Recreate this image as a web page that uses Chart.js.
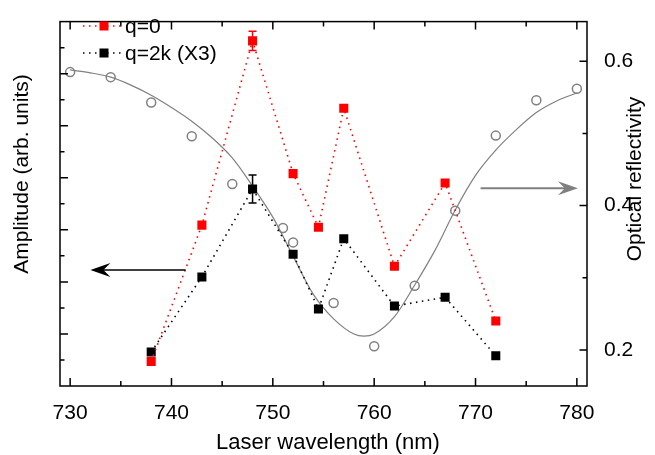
<!DOCTYPE html>
<html>
<head>
<meta charset="utf-8">
<script src="https://cdn.jsdelivr.net/npm/chart.js@4.4.0/dist/chart.umd.min.js"></script>
<style>
  html, body { margin: 0; padding: 0; background: #fff; }
  #wrap { width: 655px; height: 455px; }
</style>
</head>
<body>
<div id="wrap"><canvas id="myChart" width="655" height="455"></canvas></div>
<script>
// amplitude data (left axis, arb. units)
var wavelengths = [738, 743, 748, 752, 754.5, 757, 762, 767, 772];
var ampQ0 = [0.94, 6.18, 13.26, 8.16, 6.1, 10.67, 4.6, 7.8, 2.5];
var ampQ2k = [1.31, 4.19, 7.57, 5.06, 2.96, 5.66, 3.07, 3.41, 1.16];
var errQ0 = [0, 0, 0.37, 0, 0, 0, 0, 0, 0];
var errQ2k = [0, 0, 0.54, 0, 0, 0, 0, 0, 0];

// optical reflectivity (right axis)
var reflWl = [730, 734, 738, 742, 746, 751, 752, 756, 760, 764, 768, 772, 776, 780];
var reflVal = [0.585, 0.578, 0.543, 0.496, 0.43, 0.369, 0.349, 0.265, 0.205, 0.289, 0.393, 0.497, 0.546, 0.562];

// fit curve
var fitWl = [730, 732, 734, 736, 738, 740, 742, 744, 746, 748, 750, 752, 754, 756, 758, 759, 760, 762, 764, 766, 768, 770, 772, 774, 776, 778, 780];
var fitVal = [0.588, 0.584, 0.578, 0.567, 0.553, 0.536, 0.517, 0.494, 0.466, 0.427, 0.384, 0.330, 0.277, 0.243, 0.222, 0.219, 0.222, 0.246, 0.290, 0.338, 0.394, 0.442, 0.477, 0.505, 0.529, 0.545, 0.556];

var xTicks = [730, 740, 750, 760, 770, 780];
var xMinorTicks = [735, 745, 755, 765, 775];
var rightTicks = [0.2, 0.4, 0.6];
var rightMinorTicks = [0.3, 0.5];
var leftTicks = [2, 4, 6, 8, 10, 12];
var leftMinorTicks = [1, 3, 5, 7, 9, 11, 13];

var legendLabels = ['q=0', 'q=2k (X3)'];

var FONT = '"Liberation Sans", Arial, sans-serif';
var RED = '#ff0000', GRAY = '#808080';

function pts(xs, ys) {
  return xs.map(function (x, i) { return {x: x, y: ys[i]}; });
}

function arrow(ctx, x1, y1, x2, y2, color, lw, len, half) {
  var dir = x2 > x1 ? 1 : -1;
  ctx.save();
  ctx.strokeStyle = color;
  ctx.fillStyle = color;
  ctx.lineWidth = lw;
  ctx.beginPath();
  ctx.moveTo(x1, y1);
  ctx.lineTo(x2 - dir * len * 0.6, y2);
  ctx.stroke();
  ctx.beginPath();
  ctx.moveTo(x2, y2);
  ctx.lineTo(x2 - dir * len, y2 - half);
  ctx.lineTo(x2 - dir * len * 0.65, y2);
  ctx.lineTo(x2 - dir * len, y2 + half);
  ctx.closePath();
  ctx.fill();
  ctx.restore();
}

var decor = {
  id: 'decor',
  beforeDatasetsDraw: function (chart) {
    var ctx = chart.ctx, x = chart.scales.x, y = chart.scales.y;
    // error bars
    [[ampQ0, errQ0, RED], [ampQ2k, errQ2k, '#000']].forEach(function (s) {
      s[1].forEach(function (e, i) {
        if (!e) return;
        var px = x.getPixelForValue(wavelengths[i]);
        var top = y.getPixelForValue(s[0][i] + e);
        var bot = y.getPixelForValue(s[0][i] - e);
        ctx.save();
        ctx.strokeStyle = s[2];
        ctx.lineWidth = 1.5;
        ctx.beginPath();
        ctx.moveTo(px, top); ctx.lineTo(px, bot);
        ctx.moveTo(px - 4, top); ctx.lineTo(px + 4, top);
        ctx.moveTo(px - 4, bot); ctx.lineTo(px + 4, bot);
        ctx.stroke();
        ctx.restore();
      });
    });
  },
  afterDraw: function (chart) {
    var ctx = chart.ctx, a = chart.chartArea;
    var x = chart.scales.x, y = chart.scales.y, y2 = chart.scales.y2;
    ctx.save();
    ctx.strokeStyle = '#000';
    ctx.lineWidth = 1.5;
    ctx.strokeRect(a.left, a.top, a.right - a.left, a.bottom - a.top);
    ctx.beginPath();
    xTicks.concat(xMinorTicks).forEach(function (v) {
      var px = x.getPixelForValue(v), l = xTicks.indexOf(v) >= 0 ? 8 : 5;
      ctx.moveTo(px, a.bottom); ctx.lineTo(px, a.bottom - l);
      ctx.moveTo(px, a.top); ctx.lineTo(px, a.top + l);
    });
    leftTicks.concat(leftMinorTicks).forEach(function (v) {
      var py = y.getPixelForValue(v), l = leftTicks.indexOf(v) >= 0 ? 8 : 4.5;
      ctx.moveTo(a.left, py); ctx.lineTo(a.left + l, py);
    });
    rightTicks.concat(rightMinorTicks).forEach(function (v) {
      var py = y2.getPixelForValue(v), l = rightTicks.indexOf(v) >= 0 ? 7.5 : 4.5;
      ctx.moveTo(a.right, py); ctx.lineTo(a.right - l, py);
    });
    ctx.stroke();

    // arrows
    arrow(ctx, x.getPixelForValue(741.4), y.getPixelForValue(4.46),
          x.getPixelForValue(732.0), y.getPixelForValue(4.46), '#000', 1.5, 20, 7);
    arrow(ctx, x.getPixelForValue(770.5), y2.getPixelForValue(0.424),
          x.getPixelForValue(780.1), y2.getPixelForValue(0.424), GRAY, 2, 20, 7);

    // legend
    ctx.font = '21px ' + FONT;
    ctx.textBaseline = 'middle';
    ctx.textAlign = 'left';
    [[RED, 26], ['#000', 53]].forEach(function (l, i) {
      ctx.strokeStyle = l[0];
      ctx.fillStyle = l[0];
      ctx.lineWidth = 1.6;
      ctx.setLineDash([1.5, 4.5]);
      ctx.beginPath();
      ctx.moveTo(83, l[1]); ctx.lineTo(123, l[1]);
      ctx.stroke();
      ctx.setLineDash([]);
      ctx.fillRect(99.5, l[1] - 4.5, 9, 9);
      ctx.fillStyle = '#000';
      ctx.fillText(legendLabels[i], 125, l[1] + 1);
    });

    // axis titles
    ctx.fillStyle = '#000';
    ctx.textBaseline = 'alphabetic';
    ctx.textAlign = 'center';
    ctx.font = '22px ' + FONT;
    ctx.fillText('Laser wavelength (nm)', 328, 449);
    ctx.font = '21px ' + FONT;
    ctx.save();
    ctx.translate(28, 174);
    ctx.rotate(-Math.PI / 2);
    ctx.fillText('Amplitude (arb. units)', 0, 0);
    ctx.restore();
    ctx.save();
    ctx.translate(641, 179);
    ctx.rotate(-Math.PI / 2);
    ctx.fillText('Optical reflectivity', 0, 0);
    ctx.restore();
    ctx.restore();
  }
};

var ctx = document.getElementById('myChart').getContext('2d');
var myChart = new Chart(ctx, {
  type: 'line',
  data: {
    datasets: [{
        data: pts(wavelengths, ampQ0),
        yAxisID: 'y',
        borderColor: RED,
        backgroundColor: RED,
        borderWidth: 1.6,
        borderDash: [1.5, 4.5],
        pointStyle: 'rect',
        pointRadius: 6.4,
        pointBorderWidth: 0
      }, {
        data: pts(wavelengths, ampQ2k),
        yAxisID: 'y',
        borderColor: '#000',
        backgroundColor: '#000',
        borderWidth: 1.6,
        borderDash: [1.5, 4.5],
        pointStyle: 'rect',
        pointRadius: 6.4,
        pointBorderWidth: 0
      }, {
        data: pts(reflWl, reflVal),
        yAxisID: 'y2',
        showLine: false,
        pointStyle: 'circle',
        pointRadius: 4.5,
        pointBorderWidth: 1.5,
        borderColor: GRAY,
        backgroundColor: 'rgba(255,255,255,0)'
      }, {
        data: pts(fitWl, fitVal),
        yAxisID: 'y2',
        borderColor: GRAY,
        borderWidth: 1.2,
        pointRadius: 0,
        cubicInterpolationMode: 'monotone'
      }
    ]
  },
  options: {
    responsive: false,
    animation: false,
    layout: { padding: { top: 12, right: 0, left: 0, bottom: 0 } },
    plugins: { legend: { display: false }, tooltip: { enabled: false } },
    scales: {
      x: {
        type: 'linear',
        min: 729,
        max: 781,
        grid: { display: false },
        border: { display: false },
        afterBuildTicks: function (s) { s.ticks = xTicks.map(function (v) { return {value: v}; }); },
        afterFit: function (s) { s.height = 69; },
        ticks: { color: '#000', padding: 7, font: { family: FONT, size: 21 } }
      },
      y: {
        min: 0,
        max: 14,
        position: 'left',
        grid: { display: false },
        border: { display: false },
        ticks: { display: false },
        afterFit: function (s) { s.width = 60; }
      },
      y2: {
        min: 0.15,
        max: 0.655,
        position: 'right',
        grid: { display: false },
        border: { display: false },
        afterBuildTicks: function (s) { s.ticks = rightTicks.map(function (v) { return {value: v}; }); },
        afterFit: function (s) { s.width = 68; },
        ticks: {
          color: '#000', padding: 9, font: { family: FONT, size: 21 },
          callback: function (v) { return v.toFixed(1); }
        }
      }
    }
  },
  plugins: [decor]
});
</script>
</body>
</html>
